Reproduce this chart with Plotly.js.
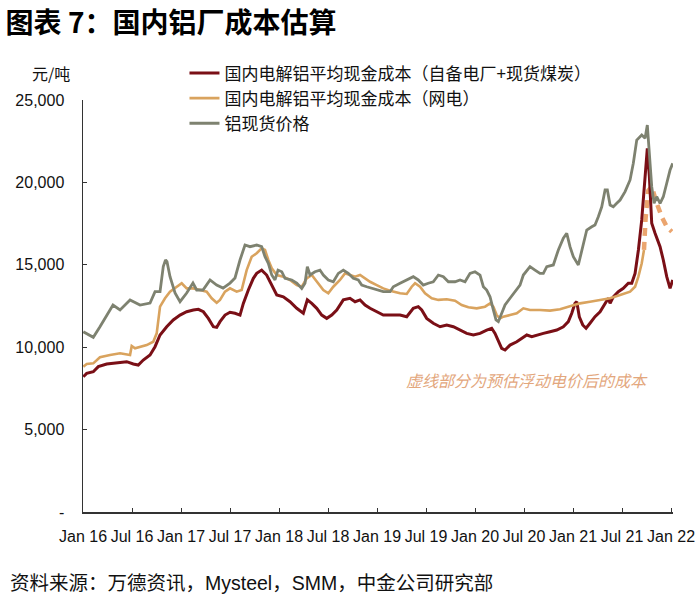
<!DOCTYPE html>
<html lang="zh">

<head>
    <meta charset="UTF-8">
    <title>图表 7：国内铝厂成本估算</title>
    <script src="https://cdn.plot.ly/plotly-3.0.1.min.js"></script>
    <style>
        body {
            margin: 0;
            background-color: white;
        }

        #chart {
            width: 700px;
            height: 606px;
        }
    </style>
</head>

<body>
    <div id="chart"></div>

    <script>
        // x = year as decimal (2016.0 = Jan 16), values in 元/吨

        // 铝现货价格
        const spotX = [2016.003, 2016.105, 2016.173, 2016.306, 2016.378, 2016.480, 2016.582, 2016.684, 2016.735, 2016.786,
            2016.819, 2016.842, 2016.857, 2016.888, 2016.939, 2016.990, 2017.058, 2017.122, 2017.160, 2017.224,
            2017.296, 2017.364, 2017.429, 2017.500, 2017.551, 2017.602, 2017.653, 2017.704, 2017.772, 2017.823,
            2017.857, 2017.891, 2017.926, 2017.959, 2017.990, 2018.028, 2018.061, 2018.130, 2018.181, 2018.232,
            2018.265, 2018.289, 2018.316, 2018.367, 2018.418, 2018.452, 2018.503, 2018.554, 2018.605, 2018.656,
            2018.707, 2018.758, 2018.809, 2018.844, 2018.895, 2018.946, 2018.997, 2019.064, 2019.133, 2019.166,
            2019.235, 2019.303, 2019.370, 2019.421, 2019.472, 2019.523, 2019.574, 2019.626, 2019.677, 2019.728,
            2019.796, 2019.847, 2019.898, 2019.949, 2020.000, 2020.051, 2020.085, 2020.119, 2020.153, 2020.187,
            2020.214, 2020.238, 2020.272, 2020.306, 2020.357, 2020.408, 2020.459, 2020.493, 2020.528, 2020.561,
            2020.612, 2020.663, 2020.697, 2020.732, 2020.799, 2020.850, 2020.901, 2020.936, 2020.969, 2021.003,
            2021.054, 2021.105, 2021.140, 2021.191, 2021.224, 2021.258, 2021.293, 2021.327, 2021.350, 2021.378,
            2021.411, 2021.446, 2021.480, 2021.531, 2021.582, 2021.615, 2021.650, 2021.701, 2021.735, 2021.758,
            2021.779, 2021.803, 2021.827, 2021.854, 2021.888, 2021.921, 2021.956, 2021.990, 2022.017];
        const spotY = [10940, 10600, 11240, 12560, 12260, 12860, 12560, 12680, 13370, 13370,
            14890, 15300, 15190, 14280, 13290, 12760, 13290, 13890, 13470, 13470,
            14080, 13770, 13590, 13890, 14200, 15290, 16200, 16100, 16200, 16100,
            15490, 15090, 14380, 14080, 14680, 14580, 14180, 14080, 13890, 13570,
            13880, 14890, 14380, 14580, 14680, 14380, 14080, 13970, 14480, 14680,
            14480, 14180, 14080, 13770, 13670, 13570, 13470, 13370, 13370, 13670,
            13880, 14080, 14280, 14080, 13770, 13880, 13970, 14380, 14280, 13970,
            13970, 14080, 13970, 14480, 14580, 14380, 13670, 13470, 13060, 12260,
            11650, 11550, 12060, 12560, 12970, 13370, 13770, 14380, 14680, 14890,
            14680, 14480, 14480, 14890, 14990, 15900, 16610, 16910, 16100, 15490,
            14990, 16300, 17110, 17310, 17420, 17920, 18520, 19540, 19540, 18630,
            18520, 18730, 18930, 19440, 20150, 21160, 22570, 22880, 22680, 23480,
            21970, 19740, 18730, 19130, 18730, 19130, 19950, 20750, 21160];

        // 国内电解铝平均现金成本（自备电厂+现货煤炭）
        const selfX = [2016.003, 2016.038, 2016.105, 2016.156, 2016.242, 2016.344, 2016.446, 2016.513, 2016.564, 2016.615,
            2016.684, 2016.735, 2016.786, 2016.854, 2016.921, 2016.990, 2017.058, 2017.126, 2017.177, 2017.228,
            2017.279, 2017.330, 2017.364, 2017.398, 2017.449, 2017.500, 2017.551, 2017.602, 2017.636, 2017.687,
            2017.738, 2017.772, 2017.823, 2017.874, 2017.926, 2017.977, 2018.044, 2018.112, 2018.181, 2018.248,
            2018.289, 2018.334, 2018.385, 2018.436, 2018.487, 2018.538, 2018.589, 2018.656, 2018.724, 2018.776,
            2018.827, 2018.878, 2018.929, 2018.997, 2019.064, 2019.133, 2019.166, 2019.235, 2019.303, 2019.370,
            2019.421, 2019.456, 2019.507, 2019.574, 2019.643, 2019.711, 2019.779, 2019.847, 2019.915, 2019.983,
            2020.051, 2020.119, 2020.170, 2020.204, 2020.238, 2020.272, 2020.306, 2020.357, 2020.426, 2020.476,
            2020.528, 2020.579, 2020.630, 2020.697, 2020.765, 2020.834, 2020.901, 2020.952, 2020.987, 2021.020,
            2021.038, 2021.064, 2021.099, 2021.133, 2021.173, 2021.224, 2021.276, 2021.327, 2021.360, 2021.378,
            2021.411, 2021.462, 2021.513, 2021.564, 2021.599, 2021.633, 2021.667, 2021.701, 2021.735, 2021.758,
            2021.779, 2021.803, 2021.837, 2021.888, 2021.921, 2021.956, 2021.990, 2022.017];
        const selfY = [8210, 8410, 8510, 8820, 8980, 9060, 9120, 8980, 8920, 9220,
            9530, 10030, 10740, 11240, 11650, 11950, 12150, 12260, 12300, 12150,
            11750, 11240, 11200, 11550, 11950, 12120, 12060, 11950, 12660, 13470,
            14180, 14480, 14680, 14380, 13770, 13170, 13060, 12760, 12360, 12060,
            12870, 12660, 12360, 11950, 11750, 11950, 12260, 12870, 12970, 12760,
            12870, 12560, 12360, 12150, 11950, 11950, 11950, 11950, 11850, 12360,
            12460, 12260, 11750, 11450, 11240, 11350, 11240, 11040, 10840, 10740,
            10840, 11040, 11150, 10840, 10330, 9930, 9830, 10130, 10330, 10540,
            10740, 10640, 10740, 10840, 10940, 11040, 11240, 11550, 12060, 12660,
            12760, 11850, 11350, 11150, 11450, 11850, 12150, 12660, 12970, 12660,
            13060, 13370, 13570, 13880, 13880, 14480, 15900, 17720, 20350, 22070,
            20350, 17520, 16910, 16100, 15290, 14280, 13570, 14080];

        // 国内电解铝平均现金成本（网电）
        const gridX = [2016.003, 2016.038, 2016.105, 2016.173, 2016.276, 2016.378, 2016.480, 2016.497, 2016.531, 2016.582,
            2016.650, 2016.717, 2016.752, 2016.786, 2016.837, 2016.888, 2016.956, 2017.007, 2017.058, 2017.126,
            2017.194, 2017.262, 2017.313, 2017.364, 2017.398, 2017.449, 2017.500, 2017.568, 2017.619, 2017.670,
            2017.721, 2017.772, 2017.823, 2017.857, 2017.891, 2017.926, 2017.977, 2018.044, 2018.112, 2018.181,
            2018.232, 2018.283, 2018.334, 2018.385, 2018.452, 2018.503, 2018.554, 2018.622, 2018.673, 2018.724,
            2018.776, 2018.827, 2018.878, 2018.929, 2018.997, 2019.064, 2019.133, 2019.235, 2019.303, 2019.354,
            2019.388, 2019.439, 2019.490, 2019.558, 2019.626, 2019.711, 2019.796, 2019.864, 2019.932, 2020.017,
            2020.102, 2020.153, 2020.187, 2020.221, 2020.255, 2020.289, 2020.357, 2020.426, 2020.493, 2020.561,
            2020.663, 2020.765, 2020.867, 2020.969, 2021.071, 2021.173, 2021.276, 2021.378, 2021.480, 2021.582,
            2021.633, 2021.667, 2021.701, 2021.724];
        const gridY = [8820, 8980, 9020, 9390, 9530, 9630, 9530, 10070, 9930, 10030,
            10130, 10330, 10840, 12460, 12970, 13370, 13670, 13880, 13570, 13570,
            13470, 13370, 12970, 12700, 12870, 13370, 13570, 13370, 13470, 14680,
            15490, 15700, 16000, 15900, 15290, 14790, 14380, 14280, 14080, 13770,
            13670, 14180, 14380, 13970, 13470, 13270, 13670, 14080, 14480, 14380,
            14280, 14380, 14180, 13970, 13770, 13570, 13430, 13270, 13230, 13670,
            13880, 13670, 13270, 12970, 12870, 12910, 12820, 12560, 12420, 12360,
            12460, 12660, 12460, 11950, 11750, 11850, 11950, 12060, 12360, 12260,
            12260, 12220, 12300, 12460, 12660, 12760, 12870, 12970, 13170, 13370,
            13670, 14280, 15090, 15900];

        // 预估浮动电价后的成本（虚线）
        const floatX = [2021.724, 2021.740, 2021.768, 2021.803, 2021.854, 2021.905, 2021.956, 2022.008];
        const floatY = [15900, 17800, 19500, 19740, 18730, 17920, 17310, 17010];

        const yTicks = [0, 5000, 10000, 15000, 20000, 25000];
        const yTickText = ['-', '5,000', '10,000', '15,000', '20,000', '25,000'];
        const xTicks = [2016, 2016.5, 2017, 2017.5, 2018, 2018.5, 2019, 2019.5, 2020, 2020.5, 2021, 2021.5, 2022];
        const xTickText = ['Jan 16', 'Jul 16', 'Jan 17', 'Jul 17', 'Jan 18', 'Jul 18', 'Jan 19', 'Jul 19',
            'Jan 20', 'Jul 20', 'Jan 21', 'Jul 21', 'Jan 22'];

        const baseFont = 'Liberation Sans, Arial, Noto Sans CJK SC, sans-serif';

        const traces = [
            {
                x: floatX, y: floatY, mode: 'lines', showlegend: false, hoverinfo: 'skip',
                line: { color: '#EBA56F', width: 4.5, dash: '8px,6px' }
            },
            {
                x: selfX, y: selfY, mode: 'lines', name: '国内电解铝平均现金成本（自备电厂+现货煤炭）',
                legendgroup: 'a', line: { color: '#7A0F16', width: 3 }
            },
            {
                x: gridX, y: gridY, mode: 'lines', name: '国内电解铝平均现金成本（网电）',
                legendgroup: 'b', line: { color: '#D9A35E', width: 2.6 }
            },
            {
                x: spotX, y: spotY, mode: 'lines', name: '铝现货价格',
                legendgroup: 'c', line: { color: '#7E8270', width: 2.8 }
            }
        ];

        const layout = {
            width: 700,
            height: 606,
            margin: { l: 83, r: 27, t: 100, b: 94 },
            paper_bgcolor: 'white',
            plot_bgcolor: 'white',
            font: { family: baseFont, color: '#111', size: 16 },
            title: {
                text: '<b>图表 7：国内铝厂成本估算</b>',
                font: { family: 'Noto Sans CJK SC, Liberation Sans, sans-serif', size: 28, color: '#000' },
                x: 0.008, xanchor: 'left', xref: 'container',
                y: 0.962, yanchor: 'middle', yref: 'container'
            },
            xaxis: {
                range: [2016, 2022.02],
                tickvals: xTicks,
                ticktext: xTickText,
                tickangle: 0,
                ticks: 'inside',
                ticklen: 4,
                tickcolor: '#333',
                ticklabelstandoff: 9,
                showline: true,
                linecolor: '#333',
                linewidth: 1.5,
                showgrid: false,
                zeroline: false,
                tickfont: { size: 16, color: '#111' }
            },
            yaxis: {
                range: [0, 25000],
                tickvals: yTicks,
                ticktext: yTickText,
                ticks: 'inside',
                ticklen: 4,
                tickcolor: '#333',
                ticklabelstandoff: 14,
                showline: true,
                linecolor: '#333',
                linewidth: 1.5,
                showgrid: false,
                zeroline: false,
                tickfont: { size: 16, color: '#111' }
            },
            showlegend: true,
            legend: {
                x: 0.172, xanchor: 'left',
                y: 1.108, yanchor: 'top',
                traceorder: 'grouped',
                tracegroupgap: 0,
                bgcolor: 'rgba(0,0,0,0)',
                font: { family: 'Noto Sans CJK SC, sans-serif', size: 17, color: '#111' }
            },
            annotations: [
                {
                    text: '元/吨', xref: 'paper', yref: 'paper', x: -0.054, y: 1.066,
                    xanchor: 'center', yanchor: 'middle', showarrow: false,
                    font: { family: 'Noto Sans CJK SC, sans-serif', size: 16, color: '#111' }
                },
                {
                    text: '<i>虚线部分为预估浮动电价后的成本</i>', xref: 'paper', yref: 'paper',
                    x: 0.753, y: 0.32, xanchor: 'center', yanchor: 'middle', showarrow: false,
                    font: { family: 'Noto Sans CJK SC, sans-serif', size: 16, color: '#E3A77D' }
                },
                {
                    text: '资料来源：万德资讯，Mysteel，SMM，中金公司研究部', xref: 'paper', yref: 'paper',
                    x: -0.127, y: -0.172, xanchor: 'left', yanchor: 'middle', showarrow: false,
                    font: { family: baseFont, size: 19.5, color: '#111' }
                }
            ]
        };

        Plotly.newPlot('chart', traces, layout, { displayModeBar: false, staticPlot: true });
    </script>
</body>

</html>
